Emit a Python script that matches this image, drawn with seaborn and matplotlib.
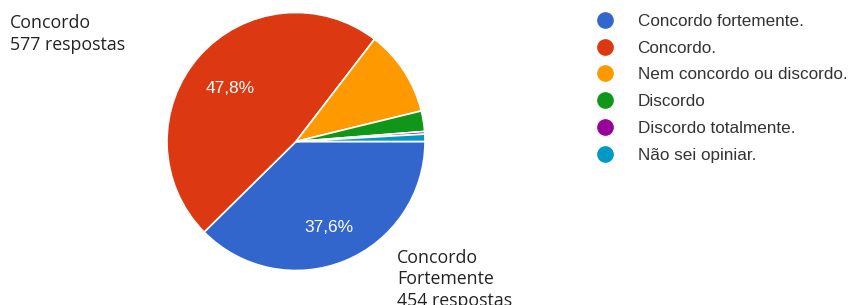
import numpy as np
import pandas as pd
import matplotlib.pyplot as plt
from matplotlib.lines import Line2D
import seaborn as sns

# Respostas por categoria
categorias = ['Concordo fortemente.', 'Concordo.', 'Nem concordo ou discordo.',
              'Discordo', 'Discordo totalmente.', 'Não sei opiniar.']
respostas = [454, 577, 130, 31, 4, 11]
cores = ['#3366CC', '#DC3912', '#FF9900', '#109618', '#990099', '#0099C6']

df = pd.DataFrame({'categoria': categorias, 'respostas': respostas})

sns.set_theme(style='white')
plt.rcParams['font.family'] = ['Liberation Sans', 'DejaVu Sans']

W, H = 848, 305
fig = plt.figure(figsize=(W / 100, H / 100), dpi=100)

# Posição da pizza (centro e raio em pixels)
cx, cy, r = 296, 141.5, 129
ax = fig.add_axes([(cx - r) / W, (H - cy - r) / H, 2 * r / W, 2 * r / H])

palette = sns.color_palette(cores)


def rotulo(pct):
    if pct < 20:
        return ''
    return f'{pct:.1f}%'.replace('.', ',')


wedges, _, autotexts = ax.pie(df['respostas'], colors=palette, startangle=0,
                              counterclock=False, autopct=rotulo, pctdistance=0.68,
                              wedgeprops=dict(edgecolor='white', linewidth=1.2))
for t in autotexts:
    t.set_color('white')
    t.set_fontsize(12.5)
    x, y = t.get_position()
    t.set_position((x, y - 0.04))
ax.set_xlim(-1, 1)
ax.set_ylim(-1, 1)
ax.set_aspect('equal')
ax.axis('off')

# Rótulos externos
fig.text(10 / W, 1 - 14 / H, 'Concordo\n577 respostas', family=['Open Sans', 'DejaVu Sans'],
         fontsize=12.8, color='#222222', va='top', ha='left', linespacing=1.27)
fig.text(397 / W, 1 - 249 / H, 'Concordo\nFortemente\n454 respostas', family=['Open Sans', 'DejaVu Sans'],
         fontsize=12.8, color='#222222', va='top', ha='left', linespacing=1.25)

# Legenda
handles = [Line2D([], [], marker='o', linestyle='', markersize=11, color=c) for c in palette]
fig.legend(handles, categorias, loc='upper left', bbox_to_anchor=(588 / W, 1 - 7 / H),
           frameon=False, fontsize=12.3, labelspacing=0.69, handletextpad=1.3,
           handlelength=1.2, borderaxespad=0, labelcolor='#333333')

fig.savefig('out.png', dpi=100)
